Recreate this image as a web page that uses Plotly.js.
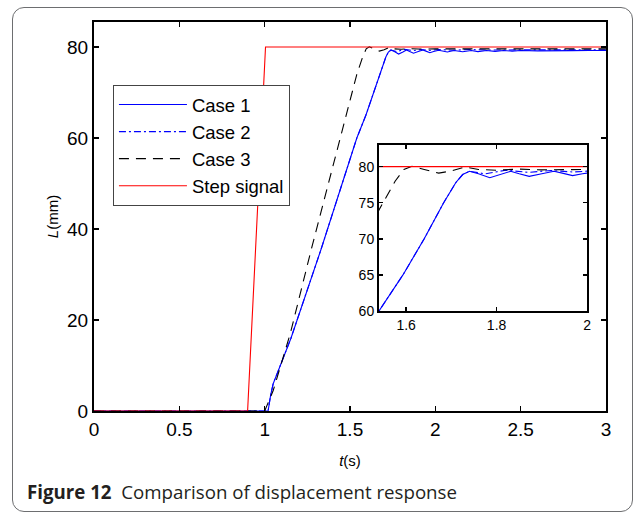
<!DOCTYPE html>
<html>
<head>
<meta charset="utf-8">
<script src="https://cdn.plot.ly/plotly-3.0.1.min.js"></script>
<style>
  html, body { margin: 0; padding: 0; background: #fff; }
  #wrap { position: relative; width: 636px; height: 514px; }
  #chart { position: absolute; left: 0; top: 0; width: 636px; height: 514px; }
  #frame { position: absolute; left: 12px; top: 7px; width: 619px; height: 503px;
           border: 1px solid #6d6e70; border-radius: 12px; pointer-events: none; }
</style>
</head>
<body>
<div id="wrap">
  <div id="chart"></div>
  <div id="frame"></div>
</div>
<script>
// ---- data ----
var case1T = [0, 1.02, 1.035, 1.05, 1.154, 1.33, 1.45, 1.54, 1.593, 1.64, 1.683, 1.71, 1.725, 1.74,
              1.76, 1.785, 1.81, 1.831, 1.85, 1.872, 1.90, 1.927, 1.945, 1.968, 1.99, 2.02,
              2.07, 2.11, 2.16, 2.21, 2.25, 2.30, 2.35, 2.40, 2.45, 2.50, 2.60, 2.70, 2.80, 2.90, 3.0];
var case1L = [0, 0, 3.5, 6, 16, 35.5, 49.5, 60, 65, 70, 75, 77.8, 78.9, 79.35,
              79.0, 78.45, 78.9, 79.35, 79.0, 78.65, 79.0, 79.35, 79.1, 78.75, 79.0, 79.3,
              78.9, 79.25, 78.95, 79.25, 79.0, 79.25, 79.05, 79.25, 79.1, 79.25, 79.15, 79.25, 79.2, 79.25, 79.25];

var case2T = [0, 1.02, 1.035, 1.05, 1.154, 1.33, 1.45, 1.54, 1.593, 1.64, 1.683, 1.71, 1.725, 1.74,
              1.775, 1.82, 1.87, 1.92, 1.97, 2.02, 2.10, 2.20, 2.30, 2.50, 3.0];
var case2L = [0, 0, 3.5, 6, 16, 35.5, 49.5, 60, 65, 70, 75, 77.8, 78.9, 79.35,
              79.0, 79.5, 79.2, 79.45, 79.25, 79.45, 79.3, 79.45, 79.35, 79.4, 79.4];

var case3T = [0, 1.0, 1.05, 1.10, 1.15, 1.275, 1.45, 1.54, 1.576, 1.595, 1.613, 1.64, 1.672, 1.70,
              1.731, 1.76, 1.80, 1.85, 1.90, 2.0, 2.2, 2.5, 3.0];
var case3L = [0, 0, 4.5, 10.5, 17, 35.8, 60.7, 74, 78, 79.6, 80.05, 79.6, 79.1, 79.4,
              79.95, 79.6, 79.5, 79.65, 79.55, 79.6, 79.6, 79.6, 79.6];

var stepT = [0, 0.9, 1.005, 3.0];
var stepL = [0, 0, 80, 80];

var seriesNames = ['Case 1', 'Case 2', 'Case 3', 'Step signal'];
var mainXTicks = [0, 0.5, 1, 1.5, 2, 2.5, 3];
var mainYTicks = [0, 20, 40, 60, 80];
var insetXTicks = [1.6, 1.8, 2];
var insetYTicks = [60, 65, 70, 75, 80];
var captionBold = 'Figure 12';
var captionText = 'Comparison of displacement response';

// ---- styles ----
var styles = [
  {color: '#0000ff', dash: 'solid', width: 1.1},
  {color: '#0000ff', dash: '7px,3px,2px,3px', width: 1.1},
  {color: '#000000', dash: '10px,7px', width: 1.1},
  {color: '#ff0000', dash: 'solid', width: 1.1}
];
var xs = [case1T, case2T, case3T, stepT];
var ys = [case1L, case2L, case3L, stepL];

var traces = [];
for (var i = 0; i < 4; i++) {
  traces.push({x: xs[i], y: ys[i], type: 'scatter', mode: 'lines', name: seriesNames[i],
    line: {color: styles[i].color, dash: styles[i].dash, width: styles[i].width},
    xaxis: 'x', yaxis: 'y', hoverinfo: 'skip'});
}
for (var j = 0; j < 4; j++) {
  traces.push({x: xs[j], y: ys[j], type: 'scatter', mode: 'lines', name: seriesNames[j],
    showlegend: false,
    line: {color: styles[j].color, dash: styles[j].dash, width: styles[j].width},
    xaxis: 'x2', yaxis: 'y2', hoverinfo: 'skip'});
}

var fontFam = '"Liberation Sans", Arial, sans-serif';
var axisCommon = {
  showgrid: false, zeroline: false, showline: true, linecolor: '#000', linewidth: 2,
  ticks: 'inside', ticklen: 5, tickwidth: 1.5, tickcolor: '#000', mirror: 'ticks'
};

var layout = {
  width: 636, height: 514,
  margin: {l: 94, r: 30, t: 22, b: 103},
  paper_bgcolor: '#fff', plot_bgcolor: '#fff',
  font: {family: fontFam, color: '#000'},
  showlegend: true,
  legend: {
    x: 0.037, y: 0.838, xanchor: 'left', yanchor: 'top',
    bgcolor: '#fff', bordercolor: '#444', borderwidth: 1,
    font: {family: fontFam, size: 18.5, color: '#000'},
    itemwidth: 68, tracegroupgap: 0
  },
  xaxis: Object.assign({}, axisCommon, {
    range: [0, 3], tickmode: 'array', tickvals: mainXTicks, ticktext: mainXTicks.map(String),
    tickfont: {size: 19, family: fontFam}, domain: [0, 1],
    title: {text: '<i>t</i>(s)', font: {size: 15, family: fontFam}, standoff: 17}
  }),
  yaxis: Object.assign({}, axisCommon, {
    range: [0, 85.5], tickmode: 'array', tickvals: mainYTicks, ticktext: mainYTicks.map(String),
    tickfont: {size: 19, family: fontFam}, domain: [0, 1],
    title: {text: '<i>L</i>(mm)', font: {size: 15, family: fontFam}, standoff: 5}
  }),
  xaxis2: Object.assign({}, axisCommon, {
    range: [1.54, 2.0], tickmode: 'array', tickvals: insetXTicks, ticktext: insetXTicks.map(String),
    tickfont: {size: 14, family: fontFam}, domain: [0.5566, 0.963], anchor: 'y2', ticklen: 4
  }),
  yaxis2: Object.assign({}, axisCommon, {
    range: [60, 83], tickmode: 'array', tickvals: insetYTicks, ticktext: insetYTicks.map(String),
    tickfont: {size: 14, family: fontFam}, domain: [0.257, 0.684], anchor: 'x2', ticklen: 4
  }),
  annotations: [{
    xref: 'paper', yref: 'paper', x: -0.134, y: -0.208, xanchor: 'left', yanchor: 'middle',
    showarrow: false, align: 'left',
    text: '<b>' + captionBold + '</b>  ' + captionText,
    font: {family: '"Open Sans", "Noto Sans", sans-serif', size: 18.7, color: '#231f20'}
  }]
};

Plotly.newPlot('chart', traces, layout, {displayModeBar: false, staticPlot: true});
</script>
</body>
</html>
